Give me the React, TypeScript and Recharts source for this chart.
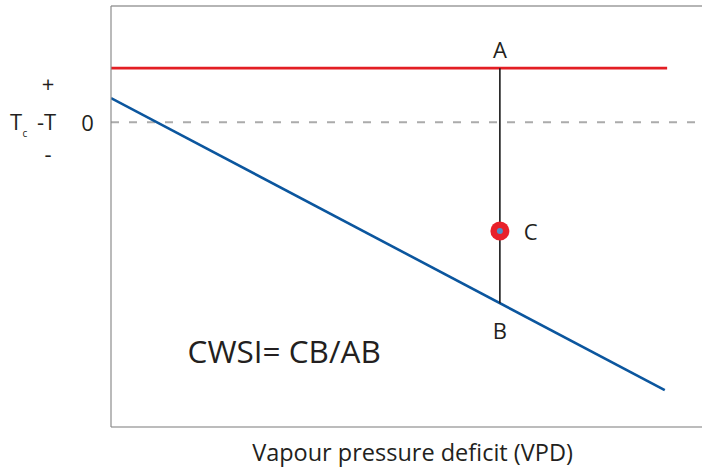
import React from "react";
import {
  ComposedChart,
  Line,
  XAxis,
  YAxis,
  ReferenceLine,
  ReferenceDot,
  Scatter,
} from "recharts";

// ---- data (in chart units) ----
const xDomain: [number, number] = [0, 100];
const yDomain: [number, number] = [-10.5, 4];

const upperLimit = [
  { x: 0, y: 1.86 },
  { x: 94.1, y: 1.86 },
];
const lowerLimit = [
  { x: 0, y: 0.83 },
  { x: 93.7, y: -9.23 },
];
const segmentAB = [
  { x: 65.8, y: 1.86 },
  { x: 65.8, y: -6.24 },
];
const pointC = [{ x: 65.8, y: -3.75 }];

const yTickValues = [1.34, 0, -1.07];
const yTickLabels = ["+", "0", "-"];

const annotations = [
  { x: 65.8, y: 2.48, text: "A", size: 22 },
  { x: 65.8, y: -7.2, text: "B", size: 22 },
  { x: 71.0, y: -3.8, text: "C", size: 22 },
  { x: 29.3, y: -7.92, text: "CWSI= CB/AB", size: 31.5 },
];

const xAxisTitle = "Vapour pressure deficit (VPD)";

const FONT = "'Open Sans', 'Noto Sans', sans-serif";
const TEXT = "#231f20";

const YTick = (props: any) => {
  const { y, payload } = props;
  const i = yTickValues.indexOf(payload.value);
  const label = yTickLabels[i];
  if (label === "0") {
    return (
      <g fontFamily={FONT} fill={TEXT}>
        <text x={87.5} y={y} textAnchor="middle" dominantBaseline="central" fontSize={22}>
          {label}
        </text>
        <text x={10} y={y + 8} fontSize={22}>T</text>
        <text x={22.5} y={y + 15} fontSize={10}>c</text>
        <text x={37} y={y + 8} fontSize={22}>-T</text>
      </g>
    );
  }
  return (
    <text
      x={48}
      y={y}
      textAnchor="middle"
      dominantBaseline="central"
      fontSize={22}
      fontFamily={FONT}
      fill={TEXT}
    >
      {label}
    </text>
  );
};

export default function App() {
  return (
    <div style={{ position: "absolute", left: 0, top: 0, background: "#fff" }}>
      <ComposedChart
        width={702}
        height={469}
        margin={{ top: 6, right: 0, bottom: 0, left: 0 }}
      >
        <XAxis
          type="number"
          dataKey="x"
          domain={xDomain}
          allowDataOverflow
          tick={false}
          tickLine={false}
          height={42}
          axisLine={{ stroke: "#a6a6a6", strokeWidth: 1.5 }}
          label={{
            value: xAxisTitle,
            position: "insideBottom",
            offset: 8,
            dx: 6,
            fontSize: 23.5,
            fontFamily: FONT,
            fill: TEXT,
          }}
        />
        <YAxis
          type="number"
          dataKey="y"
          domain={yDomain}
          allowDataOverflow
          ticks={yTickValues}
          interval={0}
          tickLine={false}
          width={111}
          axisLine={{ stroke: "#8c8c8c", strokeWidth: 1.2 }}
          tick={<YTick />}
        />
        <ReferenceLine y={yDomain[1]} stroke="#b5b5b5" strokeWidth={2} />
        <ReferenceLine y={0} stroke="#ababab" strokeWidth={2} strokeDasharray="8 10" />
        <Line
          data={upperLimit}
          dataKey="y"
          stroke="#e31e24"
          strokeWidth={2.6}
          dot={false}
          isAnimationActive={false}
        />
        <Line
          data={lowerLimit}
          dataKey="y"
          stroke="#0b569e"
          strokeWidth={2.6}
          dot={false}
          isAnimationActive={false}
        />
        <Scatter
          data={pointC}
          dataKey="y"
          fill="#e8202a"
          isAnimationActive={false}
          shape={(p: any) => <circle cx={p.cx} cy={p.cy} r={9.5} fill="#e8202a" />}
        />
        <Line
          data={segmentAB}
          dataKey="y"
          stroke="#1a1a1a"
          strokeWidth={1.6}
          dot={false}
          isAnimationActive={false}
        />
        <Scatter
          data={pointC}
          dataKey="y"
          fill="#4f8fca"
          isAnimationActive={false}
          shape={(p: any) => <circle cx={p.cx} cy={p.cy} r={3} fill="#4f8fca" />}
        />
        {annotations.map((a) => (
          <ReferenceDot
            key={a.text}
            x={a.x}
            y={a.y}
            r={0}
            fill="none"
            stroke="none"
            label={{
              value: a.text,
              position: "center",
              fontSize: a.size,
              fontFamily: FONT,
              fill: TEXT,
            }}
          />
        ))}
      </ComposedChart>
    </div>
  );
}
